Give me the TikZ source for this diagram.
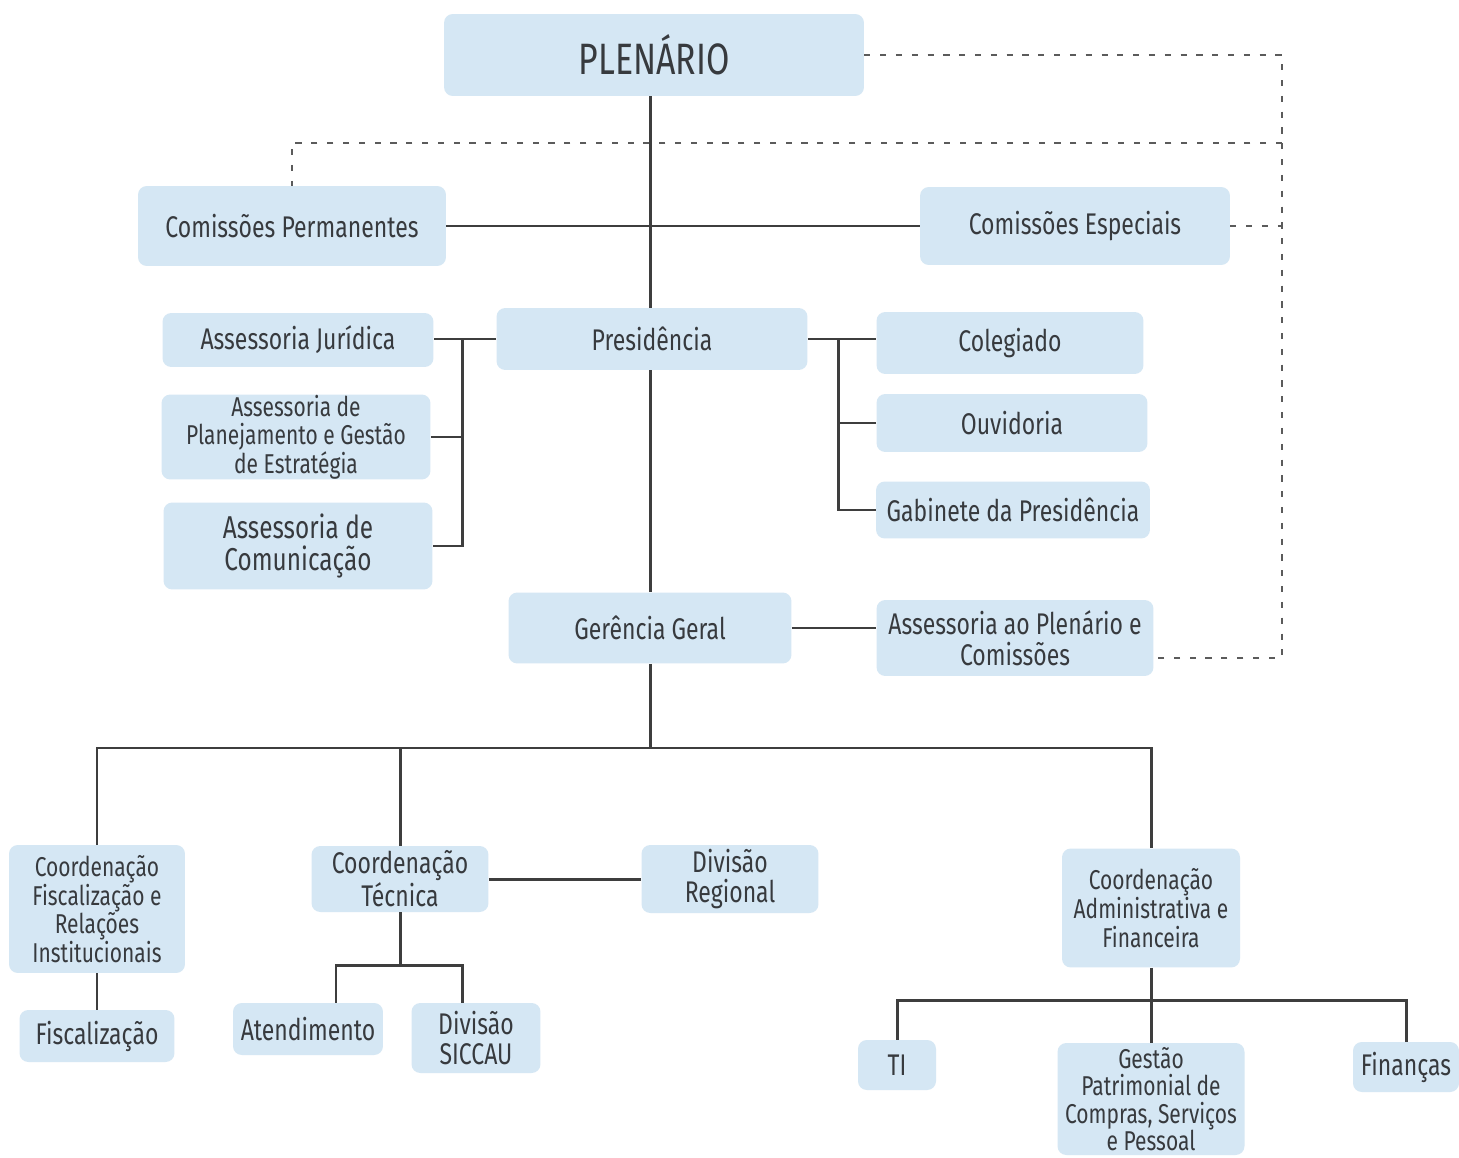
\documentclass[tikz,border=0pt]{standalone}
\usepackage{fontspec}
\setmainfont{Fira Sans}[FakeStretch=0.77]
\definecolor{boxblue}{RGB}{213,231,244}
\definecolor{ink}{RGB}{55,58,62}
\definecolor{linec}{RGB}{62,62,62}
\begin{document}
\begin{tikzpicture}[x=0.02cm,y=-0.02cm,
  box/.style={fill=boxblue, rounded corners=5pt, align=center, inner sep=0pt, text=ink, font=\fontsize{17}{17.5}\selectfont},
  smalltxt/.style={font=\fontsize{15.5}{16.3}\selectfont},
  conn/.style={draw=linec, line width=1.7pt},
  dots/.style={draw=linec!85, line width=1.6pt, dash pattern=on 3.5pt off 5.5pt}]
\fill[white] (0,0) rectangle (1459,1158);
\useasboundingbox (0,0) rectangle (1459,1158);
% nodes
\node[box, minimum width=8.4cm, minimum height=1.64cm, font=\fontsize{25}{26}\selectfont] (plen) at (654,55) {PLENÁRIO};
\node[box, minimum width=6.16cm, minimum height=1.6cm] (cperm) at (292,226) {Comissões Permanentes};
\node[box, minimum width=6.2cm, minimum height=1.56cm] (cesp) at (1075,226) {Comissões Especiais};
\node[box, minimum width=6.22cm, minimum height=1.24cm] (pres) at (652,339) {Presidência};
\node[box, minimum width=5.42cm, minimum height=1.08cm] (ajur) at (298,340) {Assessoria Jurídica};
\node[box, smalltxt, minimum width=5.38cm, minimum height=1.7cm] (aplan) at (296,437) {Assessoria de\\Planejamento e Gestão\\de Estratégia};
\node[box, font=\fontsize{18}{18.5}\selectfont, minimum width=5.38cm, minimum height=1.74cm] (acom) at (298,546) {Assessoria de\\Comunicação};
\node[box, minimum width=5.34cm, minimum height=1.24cm] (coleg) at (1010,343) {Colegiado};
\node[box, minimum width=5.42cm, minimum height=1.16cm] (ouv) at (1012,423) {Ouvidoria};
\node[box, minimum width=5.48cm, minimum height=1.14cm] (gab) at (1013,510) {Gabinete da Presidência};
\node[box, minimum width=5.66cm, minimum height=1.42cm] (ger) at (650,628) {Gerência Geral};
\node[box, minimum width=5.54cm, minimum height=1.52cm] (aplen) at (1015,638) {Assessoria ao Plenário e\\Comissões};
\node[box, smalltxt, minimum width=3.52cm, minimum height=2.56cm] (cfisc) at (97,909) {Coordenação\\Fiscalização e\\Relações\\Institucionais};
\node[box, minimum width=3.1cm, minimum height=1.04cm] (fisc) at (97,1036) {Fiscalização};
\node[box, minimum width=3.54cm, minimum height=1.32cm] (ctec) at (400,879) {Coordenação\\Técnica};
\node[box, minimum width=3.54cm, minimum height=1.36cm] (divreg) at (730,879) {Divisão\\Regional};
\node[box, minimum width=3.0cm, minimum height=1.04cm] (atend) at (308,1029) {Atendimento};
\node[box, minimum width=2.58cm, minimum height=1.4cm] (sicc) at (476,1038) {Divisão\\SICCAU};
\node[box, smalltxt, minimum width=3.56cm, minimum height=2.38cm] (cadm) at (1151,908) {Coordenação\\Administrativa e\\Financeira};
\node[box, minimum width=1.56cm, minimum height=1.0cm] (ti) at (897,1065) {TI};
\node[box, font=\fontsize{15.5}{15.5}\selectfont, minimum width=3.74cm, minimum height=2.24cm] (gest) at (1151,1099) {Gestão\\Patrimonial de\\Compras, Serviços\\e Pessoal};
\node[box, minimum width=2.12cm, minimum height=1.0cm] (fin) at (1406,1067) {Finanças};
% dotted links
\coordinate (dR) at (1282,55);
\coordinate (dT) at (1282,143);
\coordinate (dB) at (1282,658);
\draw[dots] (plen.east) -- (dR) -- (dB) -- (aplen.east |- dB);
\draw[dots] (dT) -| (cperm.north);
\draw[dots] (cesp.east) -- (cesp.east -| dR);
% solid links
\draw[conn] (plen.south -| ger.north) -- (pres.north -| ger.north);
\draw[conn] (cperm.east) -- (cesp.west);
\draw[conn] (pres.south -| ger.north) -- (ger.north);
\draw[conn] (pres.west) -- (pres.west -| ajur.east);
\coordinate (lb) at (462,339);
\draw[conn] (lb) |- (acom.east);
\draw[conn] (aplan.east) -- (aplan.east -| lb);
\draw[conn] (pres.east) -- (pres.east -| coleg.west);
\coordinate (rb) at (838,339);
\draw[conn] (rb) |- (gab.west);
\draw[conn] (ouv.west) -- (ouv.west -| rb);
\draw[conn] (ger.east) -- (ger.east -| aplen.west);
\coordinate (bus) at (650,748);
\draw[conn] (ger.south) -- (bus);
\draw[conn] (cfisc.north) |- (bus) -| (cadm.north);
\draw[conn] (ctec.north) -- (ctec.north |- bus);
\draw[conn] (cfisc.south) -- (fisc.north);
\draw[conn] (ctec.east) -- (ctec.east -| divreg.west);
\coordinate (tb) at (400,965);
\coordinate (ta) at (336,965);
\coordinate (ts) at (462,965);
\draw[conn] (ctec.south) -- (tb);
\draw[conn] (ta |- atend.north) -- (ta) -- (ts) -- (ts |- sicc.north);
\coordinate (ab) at (1151,1000);
\draw[conn] (cadm.south) -- (gest.north);
\draw[conn] (ti.north) |- (ab) -| (fin.north);
\end{tikzpicture}
\end{document}
